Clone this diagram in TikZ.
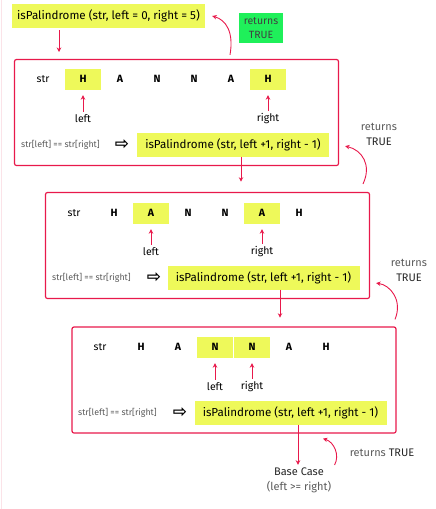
\documentclass[tikz,border=0pt]{standalone}
\usepackage{fontspec}
\setmainfont{Fira Sans}
\newfontfamily\symfont{DejaVu Sans}
\usetikzlibrary{arrows.meta,calc}
\definecolor{rred}{HTML}{E8194B}
\definecolor{hlyel}{HTML}{EEF95A}
\definecolor{retgreen}{HTML}{1FF05A}
\definecolor{txtgrey}{HTML}{5A5A5A}
\definecolor{edgepink}{HTML}{FBE3E8}
\tikzset{
  frame/.style={draw=rred,line width=1.2pt,rounded corners=2pt,minimum width=324pt,minimum height=106pt},
  call/.style={fill=hlyel,minimum width=192pt,minimum height=24pt,inner sep=0pt,font=\fontsize{11.6}{13}\selectfont},
  cell/.style={minimum width=36.5pt,minimum height=21pt,inner sep=0pt,font=\bfseries\fontsize{10.5}{11}\selectfont},
  hl/.style={cell,fill=hlyel},
  arr/.style={-{Stealth[length=4.5pt,width=4.5pt]},rred,line width=0.9pt},
  lab/.style={font=\fontsize{10.5}{11}\selectfont,inner sep=1pt},
  cmp/.style={font=\fontsize{8.8}{9}\selectfont,text=txtgrey,anchor=west,inner sep=0pt},
  imp/.style={font=\symfont\bfseries\fontsize{17}{17}\selectfont,inner sep=0pt},
  ret/.style={font=\fontsize{11}{15}\selectfont,align=center,inner sep=0pt,text=txtgrey},
}
\begin{document}
\begin{tikzpicture}[x=1pt,y=-1pt]
    \useasboundingbox (0,0) rectangle (436,509);
    \draw[edgepink,line width=0.8pt] (1,0)--(1,509);
    % first call
    \node[call,minimum width=193pt] (call0) at (108.5,16) {isPalindrome (str, left = 0, right = 5)};
    \node[ret,fill=retgreen,minimum width=44pt,minimum height=30pt,text=black!75,font=\fontsize{10.5}{14}\selectfont] (ret0) at (261,28) {returns\\TRUE};
    % level 1
    \node[frame] (f1) at (176.5,112.5) {};
    \node[lab] (s1) at (43,79) {str};
    \foreach \ch/\st [count=\i] in {H/hl,A/cell,N/cell,N/cell,A/cell,H/hl}
        \node[\st] (c1-\i) at (46+37*\i,79) {\ch};
    \node[lab] (lf1) at (c1-1 |- 0,119) {left};
    \node[lab] (rt1) at (c1-6 |- 0,119) {right};
    \draw[arr,shorten <=2pt,shorten >=5.5pt](lf1.north)--(c1-1.south);
    \draw[arr,shorten <=2pt,shorten >=5.5pt](rt1.north)--(c1-6.south);
    \node[cmp] (q1) at (21,145) {str[left] == str[right]};
    \node[imp] (im1) at (122,145) {⇨};
    \node[call] (call1) at (233,144.5) {isPalindrome (str, left +1, right - 1)};
    % level 2
    \node[frame] (f2) at (207.5,245.5) {};
    \node[lab] (s2) at (74,213) {str};
    \foreach \ch/\st [count=\i] in {H/cell,A/hl,N/cell,N/cell,A/hl,H/cell}
        \node[\st] (c2-\i) at (77+37*\i,213) {\ch};
    \node[lab] (lf2) at (c2-2 |- 0,252) {left};
    \node[lab] (rt2) at (c2-5 |- 0,252) {right};
    \draw[arr,shorten <=2pt,shorten >=5.5pt](lf2.north)--(c2-2.south);
    \draw[arr,shorten <=2pt,shorten >=5.5pt](rt2.north)--(c2-5.south);
    \node[cmp] (q2) at (52,278) {str[left] == str[right]};
    \node[imp] (im2) at (154,278) {⇨};
    \node[call] (call2) at (263.5,277.5) {isPalindrome (str, left +1, right - 1)};
    % level 3
    \node[frame] (f3) at (234,380) {};
    \node[lab] (s3) at (100,347) {str};
    \foreach \ch/\st [count=\i] in {H/cell,A/cell,N/hl,N/hl,A/cell,H/cell}
        \node[\st] (c3-\i) at (104+37*\i,347) {\ch};
    \node[lab] (lf3) at (c3-3 |- 0,387) {left};
    \node[lab] (rt3) at (c3-4 |- 0,387) {right};
    \draw[arr,shorten <=2pt,shorten >=5.5pt](lf3.north)--(c3-3.south);
    \draw[arr,shorten <=2pt,shorten >=5.5pt](rt3.north)--(c3-4.south);
    \node[cmp] (q3) at (78,413) {str[left] == str[right]};
    \node[imp] (im3) at (180,413) {⇨};
    \node[call] (call3) at (290.5,412.5) {isPalindrome (str, left +1, right - 1)};
    % base case
    \node[ret] (base) at (299,480.5) {\textcolor{black!85}{Base Case}\\(left >= right)};
    % calls going down
    \coordinate (d0) at (59,52);
    \draw[arr](call0.south -| d0)++(0,2)--(d0);
    \draw[arr]($(call1.south)+(8,0)$)--++(0,25);
    \draw[arr]($(call2.south)+(16.5,0)$)--++(0,28);
    \draw[arr,shorten >=3pt]($(call3.south)+(7.5,0)$)--(base.north -| 298,0);
    % returns going up
    \node[ret] (ret1) at (379,134.5) {returns\\\textcolor{black!85}{TRUE}};
    \node[ret] (ret2) at (409,270) {returns\\\textcolor{black!85}{TRUE}};
    \node[ret] (ret3) at (382,453) {returns \textcolor{black!85}{TRUE}};
    \draw[arr](f1.north -| 230,0)++(0,-4) .. controls (234,32) and (226,20) .. ($(call0.east)+(7,0)$);
    \draw[arr](f2.north -| 363,0)++(0,-8) .. controls (372,165) and (362,150) .. ($(f1.south east)+(6,-20)$);
    \draw[arr](f3.north -| 395,0)++(0,-7) .. controls (403,300) and (390,285) .. ($(f2.south east)+(6,-16)$);
    \draw[arr]($(ret3.west)+(-15,12)$) .. controls (340,455) and (334,442) .. ($(f3.south -| 323,0)+(0,5)$);
\end{tikzpicture}
\end{document}
